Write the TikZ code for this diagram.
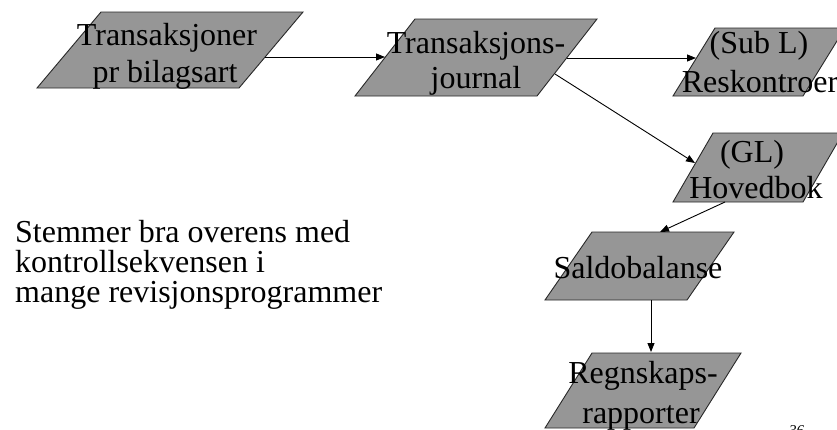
\documentclass[tikz,border=0pt]{standalone}
\usepackage{fontspec}
\setmainfont{Liberation Serif}
\usetikzlibrary{arrows.meta}
\definecolor{boxgray}{RGB}{150,150,150}
\definecolor{edgegray}{RGB}{40,40,40}
\tikzset{
  parbox/.style={fill=boxgray, draw=edgegray, line width=0.9pt, line join=miter},
  lbl/.style={inner sep=0pt, anchor=base, font=\fontsize{32}{36}\selectfont, text=black},
  note/.style={inner sep=0pt, anchor=base west, font=\fontsize{32}{30}\selectfont, text=black},
  conn/.style={draw=black, line width=0.9pt, -{Triangle[length=9pt,width=7pt]}},
}
\begin{document}
\begin{tikzpicture}[x=1pt,y=-1pt]
\useasboundingbox (0,0) rectangle (837,429);
\clip (0,0) rectangle (837,429);
\fill[white] (0,0) rectangle (837,429);
% corners
\coordinate (Atl) at (101,12); \coordinate (Atr) at (303,12);
\coordinate (Abr) at (239,88); \coordinate (Abl) at (37,88);
\coordinate (Btl) at (415,19); \coordinate (Btr) at (597,19);
\coordinate (Bbr) at (537,96); \coordinate (Bbl) at (355,96);
\coordinate (Ctl) at (715,28); \coordinate (Ctr) at (845,28);
\coordinate (Cbr) at (803,96); \coordinate (Cbl) at (673,96);
\coordinate (Dtl) at (713,133); \coordinate (Dtr) at (843,133);
\coordinate (Dbr) at (803,202); \coordinate (Dbl) at (673,202);
\coordinate (Etl) at (592,232); \coordinate (Etr) at (734,232);
\coordinate (Ebr) at (687,300); \coordinate (Ebl) at (545,300);
\coordinate (Ftl) at (592,353); \coordinate (Ftr) at (741,353);
\coordinate (Fbr) at (694,428); \coordinate (Fbl) at (545,428);
% boxes
\draw[parbox] (Atl)--(Atr)--(Abr)--(Abl)--cycle;
\draw[parbox] (Btl)--(Btr)--(Bbr)--(Bbl)--cycle;
\draw[parbox] (Ctl)--(Ctr)--(Cbr)--(Cbl)--cycle;
\draw[parbox] (Dtl)--(Dtr)--(Dbr)--(Dbl)--cycle;
\draw[parbox] (Etl)--(Etr)--(Ebr)--(Ebl)--cycle;
\draw[parbox] (Ftl)--(Ftr)--(Fbr)--(Fbl)--cycle;
% labels
\node[lbl] (A1) at (167,45) {Transaksjoner};
\node[lbl] (A2) at (165,82) {pr bilagsart};
\node[lbl] (B1) at (476,53) {Transaksjons-};
\node[lbl] (B2) at (476,88) {journal};
\node[lbl] (C1) at (759,53) {(Sub L)};
\node[lbl] (C2) at (760,92) {Reskontroer};
\node[lbl] (D1) at (752,162) {(GL)};
\node[lbl] (D2) at (756,198) {Hovedbok};
\node[lbl] (E1) at (638,278) {Saldobalanse};
\node[lbl] (F1) at (643,383) {Regnskaps-};
\node[lbl] (F2) at (641,423) {rapporter};
% note
\node[note] (N1) at (15,242) {Stemmer bra overens med};
\node[note] (N2) at (15,272) {kontrollsekvensen i};
\node[note] (N3) at (15,302) {mange revisjonsprogrammer};
\node[inner sep=0pt, anchor=north west, font=\fontsize{15}{15}\selectfont\itshape] (pg) at (789,425) {36};
% connector ends
\coordinate (a1s) at (265,57); \coordinate (a1e) at (385,57);
\coordinate (a2s) at (567,58); \coordinate (a2e) at (696,58);
\coordinate (a3s) at (555,74); \coordinate (a3e) at (695,163);
\coordinate (a4s) at (725,202); \coordinate (a4e) at (660,232);
\coordinate (a5s) at (651,300); \coordinate (a5e) at (651,352);
\draw[conn] (a1s) -- (a1e);
\draw[conn] (a2s) -- (a2e);
\draw[conn] (a3s) -- (a3e);
\draw[conn] (a4s) -- (a4e);
\draw[conn] (a5s) -- (a5e);
\end{tikzpicture}
\end{document}
